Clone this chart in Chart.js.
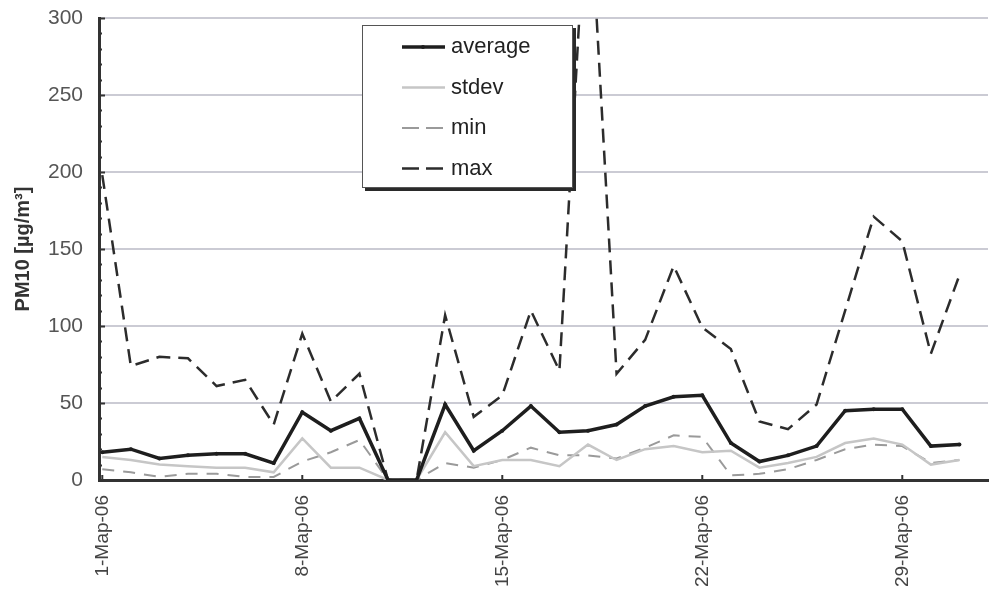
<!DOCTYPE html>
<html>
<head>
<meta charset="utf-8">
<script src="https://cdn.jsdelivr.net/npm/chart.js@4.4.1/dist/chart.umd.min.js"></script>
<style>
  html, body { margin: 0; padding: 0; background: #fff; }
  #wrap { width: 992px; height: 592px; }
</style>
</head>
<body>
<div id="wrap"><canvas id="pm10Chart" width="992" height="592"></canvas></div>
<script>
// days of March 2006, one value per day
const days = Array.from({ length: 31 }, (_, i) => i + 1);
const tickDays = [1, 8, 15, 22, 29];
const tickLabels = ["1-Мар-06", "8-Мар-06", "15-Мар-06", "22-Мар-06", "29-Мар-06"];

const average = [18, 20, 14, 16, 17, 17, 11, 44, 32, 40, 0, 0, 49, 19, 32, 48, 31, 32, 36, 48, 54, 55, 24, 12, 16, 22, 45, 46, 46, 22, 23];
const stdev = [15, 13, 10, 9, 8, 8, 5, 27, 8, 8, 0, 0, 31, 9, 13, 13, 9, 23, 13, 20, 22, 18, 19, 8, 11, 15, 24, 27, 23, 10, 13];
const minVals = [7, 5, 2, 4, 4, 2, 2, 12, 18, 26, 0, 0, 11, 8, 13, 21, 16, 16, 14, 21, 29, 28, 3, 4, 7, 13, 20, 23, 22, 11, 13];
const maxVals = [198, 74, 80, 79, 61, 65, 36, 95, 51, 69, 0, 0, 107, 41, 55, 110, 71, 400, 69, 91, 139, 99, 85, 38, 33, 49, 110, 171, 155, 82, 133];

const yTicks = [0, 50, 100, 150, 200, 250, 300];

const toPoints = (vals) => vals.map((v, i) => ({ x: days[i], y: v }));

// legend drawn inside the plot, boxed with a dark drop shadow
const boxLegend = {
  id: "boxLegend",
  afterDatasetsDraw(chart) {
    const ctx = chart.ctx;
    const bx = 362, by = 25, bw = 211, bh = 163;
    ctx.save();
    ctx.setLineDash([]);
    ctx.fillStyle = "#2a2a2a";
    ctx.fillRect(bx + 3, by + 3, bw, bh);
    ctx.fillStyle = "#fff";
    ctx.fillRect(bx, by, bw, bh);
    ctx.strokeStyle = "#555";
    ctx.lineWidth = 1;
    ctx.strokeRect(bx + 0.5, by + 0.5, bw - 1, bh - 1);

    const legendDash = [[], [], [17, 7], [17, 7]];
    chart.data.datasets.forEach((ds, i) => {
      const y = by + 22 + i * 40.5;
      ctx.beginPath();
      ctx.setLineDash(legendDash[i]);
      ctx.strokeStyle = ds.borderColor;
      ctx.lineWidth = ds.borderWidth;
      ctx.moveTo(402, y);
      ctx.lineTo(445, y);
      ctx.stroke();
      if (ds.pointRadius) {
        ctx.setLineDash([]);
        ctx.beginPath();
        ctx.fillStyle = ds.borderColor;
        ctx.arc(423, y, ds.pointRadius, 0, Math.PI * 2);
        ctx.fill();
      }
      ctx.fillStyle = "#222";
      ctx.font = "22px 'Liberation Sans', Arial, sans-serif";
      ctx.textBaseline = "middle";
      ctx.fillText(ds.label, 451, y);
    });
    ctx.restore();
  },
};

// small inside tick marks on both axes
const innerTicks = {
  id: "innerTicks",
  afterDraw(chart) {
    const { ctx, scales: { x, y } } = chart;
    ctx.save();
    ctx.strokeStyle = "#333";
    ctx.lineWidth = 2;
    for (let v = 0; v <= 300; v += 10) {
      const py = Math.round(y.getPixelForValue(v)) + 0.5;
      ctx.beginPath();
      ctx.moveTo(x.left, py);
      ctx.lineTo(x.left + (v % 50 === 0 ? 6 : 3), py);
      ctx.stroke();
    }
    tickDays.forEach((d) => {
      const px = x.getPixelForValue(d);
      ctx.beginPath();
      ctx.moveTo(px, y.bottom);
      ctx.lineTo(px, y.bottom - 5);
      ctx.stroke();
    });
    ctx.restore();
  },
};

new Chart(document.getElementById("pm10Chart"), {
  type: "line",
  data: {
    datasets: [
      {
        label: "average",
        data: toPoints(average),
        borderColor: "#1e1e1e",
        borderWidth: 3.5,
        pointRadius: 2,
        pointBackgroundColor: "#1e1e1e",
        pointBorderWidth: 0,
      },
      {
        label: "stdev",
        data: toPoints(stdev),
        borderColor: "#c6c6c6",
        borderWidth: 2.5,
        pointRadius: 0,
      },
      {
        label: "min",
        data: toPoints(minVals),
        borderColor: "#9a9a9a",
        borderWidth: 2,
        borderDash: [12, 9],
        pointRadius: 0,
      },
      {
        label: "max",
        data: toPoints(maxVals),
        borderColor: "#2c2c2c",
        borderWidth: 2.5,
        borderDash: [14, 8],
        pointRadius: 0,
      },
    ],
  },
  options: {
    responsive: false,
    animation: false,
    devicePixelRatio: 1,
    tension: 0,
    layout: { padding: { top: 18, right: 2, left: 0, bottom: 0 } },
    plugins: {
      legend: { display: false },
      tooltip: { enabled: false },
    },
    scales: {
      x: {
        type: "linear",
        min: 0.885,
        max: 32,
        afterBuildTicks: (scale) => {
          scale.ticks = tickDays.map((d) => ({ value: d }));
        },
        afterFit: (scale) => {
          scale.height = 112;
          scale.paddingLeft = 0;
          scale.paddingRight = 0;
        },
        grid: { drawOnChartArea: false, drawTicks: false },
        border: { color: "#333", width: 3 },
        ticks: {
          autoSkip: false,
          minRotation: 90,
          maxRotation: 90,
          padding: 15,
          color: "#444",
          font: { family: "'Liberation Sans', Arial, sans-serif", size: 19 },
          callback: (v) => tickLabels[tickDays.indexOf(v)],
        },
      },
      y: {
        min: 0,
        max: 300,
        afterBuildTicks: (scale) => {
          scale.ticks = yTicks.map((v) => ({ value: v }));
        },
        afterFit: (scale) => {
          scale.width = 99;
          scale.paddingTop = 0;
          scale.paddingBottom = 0;
        },
        grid: { color: "#cbcbd4", lineWidth: 2, drawTicks: false },
        border: { color: "#333", width: 3 },
        ticks: {
          padding: 16,
          color: "#555",
          font: { family: "'Liberation Sans', Arial, sans-serif", size: 21 },
        },
        title: {
          display: true,
          text: "PM10 [µg/m³]",
          color: "#333",
          padding: { top: 11, bottom: 0 },
          font: { family: "'Liberation Sans', Arial, sans-serif", size: 20, weight: "bold" },
        },
      },
    },
  },
  plugins: [boxLegend, innerTicks],
});
</script>
</body>
</html>
